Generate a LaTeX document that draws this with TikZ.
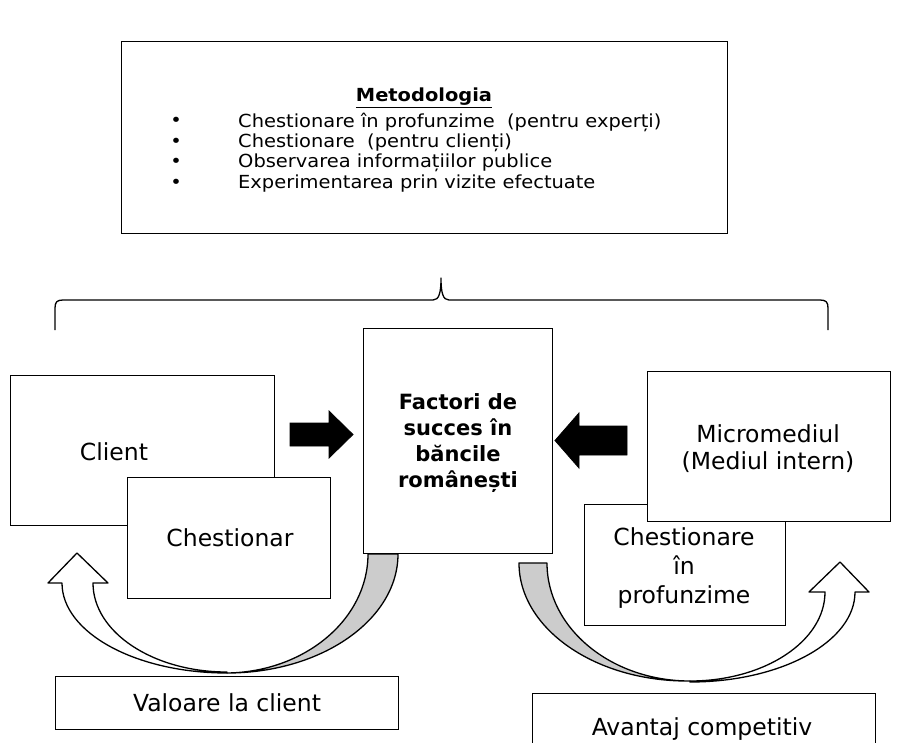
\documentclass[tikz,border=0pt]{standalone}
\usepackage{fontspec}
\setmainfont{DejaVu Sans}
\newfontfamily\listfont[FakeStretch=1.08]{DejaVu Sans}
\begin{document}
\begin{tikzpicture}[x=1pt,y=-1pt,
  box/.style={draw, line width=1.3pt, fill=white, inner sep=0pt},
  big/.style={font=\fontsize{23.5}{29}\selectfont, align=center, inner sep=0pt},
  small/.style={font=\listfont\fontsize{18}{21}\selectfont, inner sep=0pt},
  edge/.style={line width=1.3pt, line join=round},
  band/.style={edge, fill=black!20},
  hollow/.style={edge, fill=white},
  block/.style={fill=black, draw=black, line width=0.8pt, line join=miter}]
\useasboundingbox (0,0) rectangle (897,742);

% methodology box
\node[box, minimum width=606, minimum height=192, anchor=north west] (method) at (121,41) {};
\node[small, font=\listfont\fontsize{18}{21}\selectfont\bfseries] (mtitle) at (424,98) {\underline{Metodologia}};
\foreach \y/\t [count=\i] in {122/{Chestionare în profunzime \ (pentru experți)},
                  142.5/{Chestionare \ (pentru clienți)},
                  163/{Observarea informațiilor publice},
                  183.5/{Experimentarea prin vizite efectuate}}{
  \node[small] (bul\i) at (176,\y) {•};
  \node[small, anchor=west] (item\i) at (238,\y) {\t};
}

% brace grouping the three columns
\coordinate (brL) at (55,330);
\coordinate (brR) at (828,330);
\coordinate (brTip) at (441,278);
\draw[edge] (brL) -- (55,308) .. controls (55,302) and (57,300) .. (63,300)
  -- (433,300) .. controls (439,300) and (441,293) .. (brTip)
  .. controls (441,293) and (443,300) .. (449,300)
  -- (820,300) .. controls (826,300) and (828,302) .. (828,308) -- (brR);

% left column
\node[box, minimum width=264, minimum height=150, anchor=north west] (client) at (10,375) {};
\node[big] (clientt) at (114,452) {Client};
\node[box, minimum width=203, minimum height=121, anchor=north west] (chest) at (127,477) {};
\node[big] (chestt) at (230,538) {Chestionar};

% centre box
\node[box, minimum width=189, minimum height=225, anchor=north west] (center) at (363,328) {};
\node[small, font=\fontsize{21}{25.7}\selectfont\bfseries, align=center] (centert) at (458,443)
  {Factori de\\succes în\\băncile\\românești};

% right column
\node[box, minimum width=201, minimum height=121, anchor=north west] (prof) at (584,504) {};
\node[big] (proft) at (684,568) {Chestionare\\în\\profunzime};
\node[box, minimum width=243, minimum height=150, anchor=north west] (micro) at (647,371) {};
\node[big, font=\fontsize{23.5}{27}\selectfont] (microt) at (768,449) {Micromediul\\(Mediul intern)};

% block arrows towards the centre
\draw[block] (290,423) -- (329,423) -- (329,411) -- (353,434.5) -- (329,458)
  -- (329,446) -- (290,446) -- cycle;
\draw[block] (627,426) -- (579,426) -- (579,413) -- (555,440.5) -- (579,468)
  -- (579,455) -- (627,455) -- cycle;

% curved arrow, left
\draw[band] (368,554) -- (398,554) .. controls (398,619.7) and (321.4,673) .. (227,673)
  .. controls (304.9,672) and (368,619.2) .. cycle;
\draw[hollow] (227,673) .. controls (135.9,673) and (62,632.7) .. (62,583)
  -- (48,583) -- (77,553) -- (108,583) -- (93,583)
  .. controls (93,632.2) and (153,672) .. (227,672) -- cycle;

% curved arrow, right
\draw[band] (519,563) -- (547,563) .. controls (547,628.2) and (611,681) .. (690,681)
  .. controls (595.6,682) and (519,628.7) .. cycle;
\draw[hollow] (690,682) .. controls (781.1,682) and (855,641.7) .. (855,592)
  -- (869,592) -- (840,562) -- (809,592) -- (825,592)
  .. controls (825,641.2) and (764.6,681) .. (690,681) -- cycle;

% result boxes
\node[box, minimum width=343, minimum height=53, anchor=north west] (value) at (55,676) {};
\node[big] (valuet) at (227,703) {Valoare la client};
\node[box, minimum width=343, minimum height=60, anchor=north west] (adv) at (532,693) {};
\node[big] (advt) at (702,729) {Avantaj competitiv};
\end{tikzpicture}
\end{document}
